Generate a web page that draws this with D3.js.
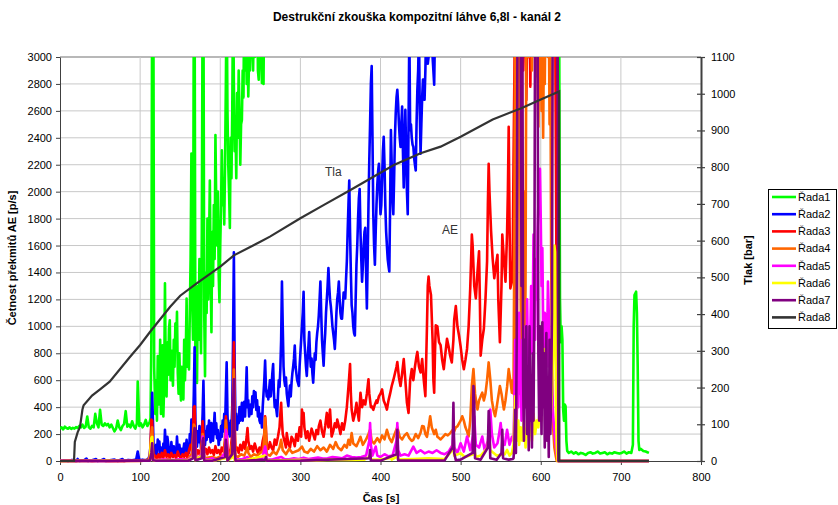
<!DOCTYPE html>
<html>
<head>
<meta charset="utf-8">
<script src="https://cdn.jsdelivr.net/npm/d3@7"></script>
<style>
  body { margin: 0; background: #fff; }
  text { font-family: "Liberation Sans", Arial, sans-serif; }
</style>
</head>
<body>
<svg id="chart" width="838" height="505"></svg>
<script>
// tick labels
const casTicks = [0, 100, 200, 300, 400, 500, 600, 700, 800];
const aeTicks = [0, 200, 400, 600, 800, 1000, 1200, 1400, 1600, 1800, 2000, 2200, 2400, 2600, 2800, 3000];
const tlakTicks = [0, 100, 200, 300, 400, 500, 600, 700, 800, 900, 1000, 1100];

const seriesNames = ['Řada1', 'Řada2', 'Řada3', 'Řada4', 'Řada5', 'Řada6', 'Řada7', 'Řada8'];
const seriesColors = ['#00ff00', '#0000ff', '#ff0000', '#ff6600', '#ff00ff', '#ffff00', '#800080', '#333333'];

// [čas s, četnost p/s] ; values above 3000 run off the top of the chart
const rada1 = [[0,240],[2,250],[4,235],[6,255],[8,245],[10,240],[12,250],[14,238],[16,246],[18,240],[20,252],[22,245],[24,260],[26,250],[28,270],[30,245],[32,255],[34,330],[36,250],[38,240],[40,260],[42,250],[44,350],[46,280],[48,250],[50,380],[52,270],[54,260],[56,280],[58,265],[60,275],[62,250],[64,270],[66,245],[68,220],[70,240],[72,300],[74,250],[76,230],[78,260],[80,275],[82,370],[84,255],[86,270],[88,250],[90,295],[92,260],[94,240],[96,280],[97,590],[99,260],[101,280],[103,250],[105,270],[107,305],[109,260],[111,280],[112,290],[113,320],[114,900],[115,3500],[116.5,3500],[117.5,700],[119,350],[120,600],[121,300],[122,780],[124,420],[125,900],[126,350],[127,600],[128,860],[129,330],[130,560],[131,1320],[132,620],[133,480],[134,880],[135,640],[136,980],[137,1045],[138,600],[139,820],[140,700],[141,560],[142,900],[143,700],[144,1020],[145,820],[146,1107],[147,650],[148,500],[149,800],[150,560],[151,450],[152,700],[153,520],[154,457],[155,900],[156,600],[157,800],[158,1207],[159,700],[160,950],[161,680],[162,1100],[163,1500],[164,2283],[165,1200],[166,900],[167,3500],[168,3500],[169,700],[170,1000],[171,580],[172,1300],[173,900],[174,1500],[175,1100],[176,800],[177,1700],[178,3500],[179,3500],[180,1100],[181,630],[182,1400],[183,1100],[184,1800],[185,1200],[186,1600],[187,2082],[188,1400],[189,957],[190,1700],[191,1300],[192,1900],[193,1500],[194,2420],[195,1900],[196,1600],[197,2000],[198,1400],[199,1180],[200,1600],[201,1900],[202,2307],[203,1900],[204,2100],[205,1757],[206,2200],[207,2800],[208,3500],[209,2600],[210,2200],[211,2000],[212,1730],[213,2400],[214,2100],[215,2600],[216,3500],[217,2800],[218,2300],[219,2500],[220,2100],[221,2732],[222,2400],[223,2900],[224,2600],[225,2200],[226,2500],[227,2532],[228,2900],[229,2700],[230,3500],[231,2900],[232,3200],[233,2800],[234,3100],[235,2707],[236,3000],[237,2900],[238,3200],[239,3500],[240,3100],[241,2900],[242,3300],[243,3000],[244,3400],[245,3100],[246,3600],[247,2900],[248,2832],[249,3200],[250,3500],[251,3000],[252,2807],[253,3300],[254,2800],[255,3600],[260,4000],[300,4500],[400,5000],[500,5000],[600,4800],[618,4500],[621,4000],[623,3300],[624,1200],[625,882],[626,1000],[627,900],[628,382],[629,300],[630,420],[631,407],[632,150],[633,75],[635,60],[638,70],[641,55],[644,65],[647,50],[650,60],[653,55],[656,45],[659,60],[662,65],[665,55],[668,60],[671,70],[674,55],[677,60],[680,65],[683,50],[686,60],[689,55],[692,65],[695,60],[698,55],[701,60],[704,70],[707,55],[710,65],[713,60],[715,120],[716,1000],[717,1232],[719,1257],[720,1100],[721,700],[722,150],[723,82],[725,90],[728,75],[731,70],[733,65],[735,60]];

const rada2 = [[0,0],[5,5],[10,0],[15,8],[20,0],[22,15],[24,0],[30,5],[33,18],[35,0],[40,6],[45,15],[47,0],[52,8],[55,15],[57,0],[62,5],[68,10],[72,0],[78,15],[80,0],[85,8],[90,5],[95,10],[97,70],[99,5],[103,10],[107,5],[110,15],[112,40],[113,120],[114,250],[115,507],[116,300],[117,40],[118,90],[119,30],[120,120],[121,50],[122,160],[123,90],[124,145],[125,40],[126,100],[127,60],[128,30],[129,130],[130,60],[131,232],[132,110],[133,50],[134,180],[135,132],[136,60],[137,100],[138,40],[139,140],[140,70],[141,30],[142,110],[143,50],[144,90],[145,60],[146,182],[147,80],[148,40],[149,120],[150,70],[151,30],[152,90],[153,50],[154,82],[155,130],[156,60],[157,100],[158,157],[159,70],[160,120],[161,60],[162,200],[163,120],[164,307],[165,150],[166,250],[167,500],[168,845],[169,300],[170,150],[171,107],[172,220],[173,140],[174,260],[175,160],[176,100],[177,200],[178,350],[179,595],[180,250],[181,120],[182,220],[183,157],[184,260],[185,180],[186,300],[187,200],[188,140],[189,282],[190,200],[191,150],[192,250],[193,357],[194,200],[195,280],[196,170],[197,230],[198,120],[199,200],[200,157],[201,260],[202,180],[203,300],[204,220],[205,350],[206,250],[207,500],[208,732],[209,350],[210,200],[211,280],[212,182],[213,300],[214,250],[215,400],[216,900],[217,1550],[218,700],[219,300],[220,350],[221,232],[222,330],[223,280],[224,400],[225,300],[226,360],[227,432],[228,300],[229,380],[230,440],[231,330],[232,500],[233,695],[234,400],[235,450],[236,330],[237,357],[238,420],[239,350],[240,480],[241,400],[242,520],[243,482],[244,510],[245,380],[246,450],[247,330],[248,400],[249,300],[250,282],[251,350],[252,250],[253,400],[254,500],[255,600],[256,745],[257,550],[258,480],[259,520],[260,457],[261,530],[262,600],[263,480],[264,560],[265,650],[266,720],[267,500],[268,400],[269,450],[270,380],[271,332],[272,480],[273,600],[274,550],[275,682],[276,900],[277,1332],[278,1000],[279,700],[280,600],[281,557],[282,620],[283,500],[284,450],[285,407],[286,500],[287,560],[288,480],[289,582],[290,650],[291,700],[292,760],[293,857],[294,700],[295,650],[296,600],[297,580],[298,557],[299,700],[300,800],[301,900],[302,1000],[303,1100],[304,1257],[305,900],[306,800],[307,700],[308,632],[309,750],[310,850],[311,957],[312,800],[313,700],[314,760],[315,650],[316,582],[317,700],[318,800],[319,750],[320,880],[321,950],[322,1000],[323,1082],[324,1200],[325,1332],[326,1100],[327,900],[328,800],[329,707],[330,850],[331,950],[332,1100],[333,1200],[334,1300],[335,1432],[336,1300],[337,1200],[338,1150],[339,1082],[340,1000],[341,950],[342,900],[343,832],[344,950],[345,1100],[346,1200],[347,1250],[348,1332],[349,1200],[350,1100],[351,1057],[352,1057],[353,1150],[354,1250],[355,1207],[356,1207],[357,1350],[358,1482],[359,1700],[360,1900],[361,2082],[362,1700],[363,1400],[364,1157],[365,1100],[366,1000],[367,950],[368,932],[369,1200],[370,1457],[371,1600],[372,1800],[373,1950],[374,2020],[375,1700],[376,1500],[377,1332],[378,1450],[379,1600],[380,1700],[381,1732],[382,1400],[383,1132],[384,1500],[385,1900],[386,2232],[387,2500],[388,2800],[389,2932],[390,2400],[391,1832],[392,1600],[393,1457],[394,1700],[395,1900],[396,2050],[397,2150],[398,2207],[399,2000],[400,1832],[401,1900],[402,2100],[403,2300],[404,2407],[405,2200],[406,1900],[407,1707],[408,1600],[409,1500],[410,1450],[411,1407],[412,1900],[413,2457],[414,2200],[415,1950],[416,1832],[417,2100],[418,2400],[419,2582],[420,2700],[421,2757],[422,2650],[423,2500],[424,2400],[425,2332],[426,2500],[427,2632],[428,2300],[429,2032],[430,2300],[431,2607],[432,2300],[433,2000],[434,1832],[435,2500],[436,3200],[437,2457],[438,2500],[439,2400],[440,2350],[441,2332],[442,2250],[443,2200],[444,2157],[445,2500],[446,2757],[447,2900],[448,3200],[449,2600],[450,2282],[451,2500],[452,2700],[453,2832],[454,2832],[455,2682],[456,2900],[457,3200],[458,3100],[459,2950],[460,3000],[461,3100],[462,3300],[463,3100],[464,3400],[465,3000],[466,2900],[467,2795],[468,3200],[470,3500],[480,4000],[520,4500],[600,4500],[619,4000],[620,1500],[621,200],[622,0],[735,0]];

const rada3 = [[0,0],[10,3],[20,0],[30,5],[40,0],[50,4],[60,0],[70,3],[80,0],[90,5],[100,2],[110,8],[112,30],[113,120],[114,307],[115,300],[116,100],[117,20],[119,40],[121,15],[123,50],[125,20],[127,60],[129,25],[131,80],[133,30],[135,50],[137,20],[139,60],[141,30],[143,45],[145,20],[147,70],[149,35],[151,20],[153,50],[155,30],[157,60],[159,25],[161,80],[163,120],[165,60],[166,200],[167,400],[168,407],[169,120],[170,40],[172,80],[174,50],[176,90],[177,150],[178,295],[179,200],[180,60],[182,90],[184,50],[186,100],[188,60],[190,80],[192,45],[194,110],[196,60],[198,80],[200,50],[202,100],[204,70],[206,150],[207,332],[208,250],[209,80],[211,60],[213,90],[215,200],[216,500],[217,882],[218,300],[219,80],[221,100],[223,60],[225,120],[227,80],[229,140],[231,90],[233,180],[234,245],[235,150],[237,90],[239,110],[241,70],[243,130],[245,90],[247,60],[249,100],[251,70],[253,150],[255,200],[256,332],[257,250],[258,120],[260,90],[262,140],[264,100],[266,80],[268,160],[270,120],[272,180],[274,250],[275,350],[276,432],[277,300],[278,200],[280,150],[282,100],[283,207],[285,130],[287,100],[289,180],[291,157],[293,110],[295,200],[297,150],[299,250],[301,180],[302,382],[303,280],[304,357],[305,250],[307,170],[309,220],[311,150],[312,182],[314,240],[316,200],[318,160],[320,230],[322,200],[323,257],[325,300],[327,220],[329,180],[331,260],[333,357],[335,250],[337,382],[339,182],[341,220],[343,280],[345,250],[346,307],[348,260],[350,200],[352,280],[354,232],[356,300],[358,400],[360,550],[361,632],[362,720],[363,500],[364,382],[366,300],[368,350],[370,432],[371,380],[373,300],[375,507],[377,400],[379,450],[381,420],[383,500],[385,607],[386,500],[388,400],[389,407],[391,380],[393,420],[395,450],[396,432],[398,480],[400,500],[402,532],[404,450],[406,420],[408,382],[410,450],[412,500],[414,557],[416,600],[418,650],[420,700],[421,735],[423,620],[425,557],[427,650],[429,757],[431,600],[433,432],[435,357],[437,600],[439,682],[441,600],[443,700],[445,780],[446,810],[448,700],[450,657],[452,757],[454,600],[456,482],[458,1000],[459,1300],[460,1370],[461,1300],[463,1232],[465,900],[466,600],[467,507],[468,800],[469,1007],[471,1000],[473,882],[475,860],[477,750],[479,682],[481,800],[483,907],[485,850],[487,780],[489,732],[491,900],[492,1050],[494,1150],[496,1000],[498,932],[500,850],[502,750],[504,682],[506,750],[508,832],[510,1000],[512,1282],[514,1682],[515,1600],[517,1300],[519,1207],[521,1400],[523,1557],[524,1200],[525,782],[527,900],[529,982],[531,1200],[533,1482],[534,1900],[535,2207],[536,2000],[538,1707],[540,1500],[542,1357],[544,1450],[546,1532],[547,1200],[549,882],[551,1300],[552,1682],[554,1500],[556,1332],[558,1700],[559,2007],[560,2482],[561,1800],[562,1282],[564,1332],[565,1500],[566,2200],[567,2800],[568,3400],[569,3100],[570,3500],[571,3000],[572,3400],[573,2900],[574,3300],[575,3100],[576,3500],[577,3200],[578,2900],[579,3400],[580,3100],[581,3500],[582,2680],[583,3200],[584,3500],[585,3000],[586,3400],[587,2780],[588,3300],[589,3500],[590,3100],[592,3400],[594,3200],[596,3500],[598,3300],[600,3500],[602,3200],[604,3400],[606,3100],[608,3500],[610,3300],[612,3400],[614,3200],[616,3500],[618,3300],[620,1000],[621,100],[622,0],[735,0]];

const rada4 = [[0,0],[20,2],[40,0],[60,3],[80,0],[100,2],[112,10],[114,200],[115,250],[116,30],[118,5],[125,10],[130,5],[135,15],[140,5],[150,10],[160,15],[165,60],[167,270],[168,260],[169,30],[172,20],[176,30],[178,200],[179,170],[180,20],[185,25],[190,30],[195,20],[200,35],[205,50],[207,300],[208,200],[209,40],[212,30],[215,150],[216,400],[217,680],[218,200],[219,40],[222,30],[226,50],[230,40],[234,100],[235,60],[238,30],[242,50],[246,40],[250,60],[254,80],[256,320],[257,200],[258,50],[262,40],[266,70],[270,50],[274,100],[276,157],[278,80],[282,50],[286,90],[290,60],[294,70],[298,80],[302,107],[305,70],[309,60],[313,90],[317,70],[321,110],[325,80],[329,100],[333,70],[337,120],[341,90],[344,140],[347,100],[351,80],[355,120],[358,100],[360,157],[362,120],[364,207],[366,130],[370,110],[373,150],[375,180],[378,120],[382,160],[385,200],[387,232],[389,150],[392,130],[396,170],[399,140],[402,190],[405,160],[408,232],[411,170],[414,140],[417,190],[421,250],[424,180],[427,160],[430,190],[433,207],[436,170],[439,150],[441,157],[444,200],[447,170],[450,210],[452,260],[454,257],[456,200],[458,180],[460,250],[462,332],[464,250],[467,200],[469,232],[471,180],[473,170],[475,160],[478,180],[481,200],[484,190],[487,207],[490,230],[492,220],[494,250],[496,257],[498,280],[500,300],[502,332],[504,300],[506,250],[508,220],[510,182],[512,300],[514,557],[516,682],[518,500],[520,420],[521,382],[523,450],[525,480],[527,507],[529,450],[531,500],[533,600],[535,732],[537,607],[539,450],[541,380],[543,332],[545,400],[547,480],[549,557],[551,500],[553,420],[554,382],[556,450],[558,550],[560,682],[562,600],[564,507],[565,600],[566,500],[567,1600],[568,3200],[569,1000],[570,480],[571,1800],[572,3300],[573,2500],[574,3100],[575,1200],[576,600],[577,1500],[578,900],[579,2000],[580,700],[581,1300],[582,3200],[583,3500],[584,3300],[585,3000],[586,3400],[587,3200],[588,3500],[589,2900],[590,3300],[591,3500],[592,3100],[593,3400],[594,2857],[595,3200],[596,2900],[597,2482],[598,3100],[599,2700],[600,3300],[601,2600],[602,3000],[603,2400],[604,3200],[605,2800],[606,3400],[607,3200],[608,3500],[609,3000],[610,3400],[611,2500],[612,3100],[613,1500],[614,800],[615,300],[617,100],[619,30],[620,0],[735,0]];

const rada5 = [[0,2],[20,0],[40,3],[60,0],[80,2],[100,0],[112,5],[114,80],[115,90],[116,10],[120,5],[130,10],[140,5],[150,12],[160,8],[166,40],[167,150],[168,200],[169,20],[172,10],[177,60],[178,182],[179,150],[180,15],[185,10],[190,20],[195,8],[200,15],[206,60],[207,232],[208,200],[209,20],[212,15],[216,60],[217,150],[218,20],[222,10],[228,15],[234,30],[235,20],[240,12],[246,18],[252,10],[256,107],[257,80],[258,12],[264,10],[270,20],[276,30],[280,15],[286,12],[292,20],[298,15],[304,25],[310,15],[316,20],[322,25],[328,18],[334,20],[340,30],[346,25],[352,20],[358,40],[364,30],[370,25],[376,30],[382,40],[386,150],[387,282],[388,120],[390,40],[394,107],[396,40],[400,30],[405,50],[410,35],[415,40],[420,150],[421,282],[422,80],[425,40],[430,50],[435,40],[441,107],[445,60],[450,80],[455,57],[460,70],[465,60],[470,80],[475,60],[480,50],[485,70],[490,120],[491,232],[492,100],[496,60],[500,132],[504,70],[508,182],[512,80],[516,200],[517,332],[519,120],[523,100],[527,182],[530,80],[534,150],[537,382],[539,200],[542,100],[546,132],[548,200],[550,282],[552,150],[555,120],[558,232],[561,120],[564,180],[566,150],[567,400],[568,900],[569,600],[570,300],[571,800],[572,400],[573,1100],[574,500],[575,700],[576,300],[577,900],[578,500],[579,800],[580,400],[581,1000],[582,600],[583,1200],[584,700],[585,500],[586,900],[587,907],[588,1300],[589,800],[590,1100],[591,1682],[592,1200],[593,900],[594,1500],[595,1200],[596,1700],[597,1900],[598,2100],[599,2170],[600,1800],[601,1300],[602,1582],[603,1000],[604,800],[605,1100],[606,1082],[607,700],[608,900],[609,1332],[610,1100],[611,700],[612,900],[613,600],[614,832],[615,400],[616,300],[618,150],[620,50],[622,0],[735,0]];

const rada6 = [[0,0],[50,2],[100,0],[112,5],[114,170],[115,180],[116,5],[120,2],[140,5],[160,3],[166,30],[167,120],[168,100],[169,5],[177,40],[178,130],[179,100],[180,5],[190,3],[206,20],[207,80],[208,50],[209,3],[216,30],[217,60],[218,5],[230,3],[256,40],[257,30],[258,3],[280,5],[300,8],[320,5],[340,10],[360,8],[380,10],[386,30],[387,45],[388,10],[400,12],[412,20],[413,30],[414,10],[420,30],[421,60],[422,10],[440,15],[460,20],[480,15],[490,80],[491,157],[492,40],[500,57],[505,30],[516,50],[517,82],[519,30],[525,40],[534,100],[535,232],[537,80],[545,40],[555,50],[558,82],[561,40],[564,60],[566,120],[567,300],[568,480],[569,407],[570,150],[571,200],[572,300],[573,120],[575,250],[577,150],[579,300],[581,100],[583,250],[585,180],[587,300],[589,150],[591,350],[593,200],[595,300],[597,250],[599,400],[601,300],[602,500],[603,700],[604,832],[605,632],[606,380],[607,282],[608,350],[610,400],[612,300],[614,500],[616,900],[617,1600],[618,1550],[619,400],[620,100],[621,0],[735,0]];

const rada7 = [[0,0],[30,2],[60,0],[90,3],[112,3],[114,60],[115,132],[116,5],[120,2],[140,3],[160,2],[166,20],[167,200],[168,245],[169,5],[177,20],[178,150],[179,170],[180,3],[190,2],[206,30],[207,157],[208,100],[209,3],[215,50],[216,400],[217,607],[218,100],[219,3],[230,2],[256,10],[257,30],[258,2],[300,3],[386,20],[387,82],[388,5],[400,3],[420,50],[421,232],[422,5],[440,3],[480,5],[490,100],[491,432],[492,60],[494,5],[500,10],[515,60],[516,557],[517,432],[518,20],[525,10],[534,100],[535,370],[536,282],[537,20],[545,10],[551,60],[552,232],[553,20],[560,10],[565,15],[566,20],[567,100],[568,380],[569,60],[570,900],[571,3500],[572,3500],[573,3500],[574,3500],[575,3200],[576,1300],[577,3500],[578,600],[579,150],[580,900],[581,400],[582,1000],[583,200],[584,700],[585,80],[586,1000],[587,300],[588,600],[589,100],[590,800],[591,300],[592,1200],[593,3500],[594,3500],[595,3500],[596,3500],[597,800],[598,300],[599,1000],[600,600],[601,200],[602,1030],[603,400],[604,800],[605,100],[606,700],[607,950],[608,150],[609,600],[610,30],[611,900],[612,200],[613,500],[614,1100],[615,3500],[616,3500],[617,3500],[618,3500],[619,3500],[620,3500],[621,3500],[622,0],[735,0]];

// [čas s, tlak bar] - right axis
const rada8 = [[0,0],[17.5,0],[18.5,52],[22,78],[25,93],[28,140],[29.5,152],[40,178],[50,195],[62,216],[87.5,284],[100,316],[112.5,352],[137.5,420],[150,450],[171,484],[200,529],[217,560],[241,587],[250,597],[262,611],[300,661],[330,698],[362.5,738],[416.7,806],[450,838],[475,856],[500,883],[540,930],[575,960],[600,984],[623,1006],[623.2,0],[735,0]];

const aeSeries = [rada1, rada2, rada3, rada4, rada5, rada6, rada7];

const svg = d3.select('#chart');
const x = d3.scaleLinear().domain([0, 800]).range([60, 701]);
const y = d3.scaleLinear().domain([0, 3000]).range([461, 57]);
const y2 = d3.scaleLinear().domain([0, 1100]).range([461, 57]);
const fmt = d3.format('d');

// gridlines
svg.append('g')
  .selectAll('line')
  .data(aeTicks.filter(d => d > 0))
  .join('line')
  .attr('x1', x(0)).attr('x2', x(800))
  .attr('y1', d => y(d)).attr('y2', d => y(d))
  .attr('stroke', d => d === 3000 ? '#a0a0a0' : '#c8c8c8')
  .attr('stroke-width', d => d === 3000 ? 1.5 : 1);

svg.append('g')
  .selectAll('line')
  .data(casTicks.filter(d => d > 0 && d < 800))
  .join('line')
  .attr('x1', d => x(d)).attr('x2', d => x(d))
  .attr('y1', y(0)).attr('y2', y(3000))
  .attr('stroke', '#c8c8c8');

// axes
const styleAxis = g => {
  g.selectAll('text').attr('fill', '#000').style('font-size', '11px')
    .style('font-family', '"Liberation Sans", Arial, sans-serif');
};

svg.append('g')
  .attr('transform', `translate(${x(0)},0)`)
  .call(d3.axisLeft(y).tickValues(aeTicks).tickFormat(fmt).tickSize(4).tickSizeOuter(0).tickPadding(4))
  .call(styleAxis)
  .call(g => g.selectAll('line, path').attr('stroke', '#404040'));

svg.append('g')
  .attr('transform', `translate(0,${y(0)})`)
  .call(d3.axisBottom(x).tickValues(casTicks).tickFormat(fmt).tickSize(4).tickSizeOuter(0).tickPadding(8))
  .call(styleAxis)
  .call(g => g.selectAll('line, path').attr('stroke', '#404040'));

svg.append('g')
  .attr('transform', `translate(${x(800)},0)`)
  .call(d3.axisRight(y2).tickValues(tlakTicks).tickFormat(fmt).tickSize(4).tickSizeOuter(0).tickPadding(6))
  .call(styleAxis)
  .call(g => g.select('.domain').attr('stroke', '#404040').attr('stroke-width', 2))
  .call(g => g.selectAll('.tick line').attr('x1', -4).attr('stroke', '#404040').attr('stroke-width', 1.2));

// series
svg.append('clipPath').attr('id', 'plot')
  .append('rect').attr('x', x(0)).attr('y', y(3000)).attr('width', x(800) - x(0)).attr('height', y(0) - y(3000) + 3);

const plot = svg.append('g').attr('clip-path', 'url(#plot)');

const lineAE = d3.line().x(d => x(d[0])).y(d => y(d[1]));
const lineTlak = d3.line().x(d => x(d[0])).y(d => y2(d[1]));

aeSeries.forEach((s, i) => {
  plot.append('path')
    .datum(s)
    .attr('fill', 'none')
    .attr('stroke', seriesColors[i])
    .attr('stroke-width', 2.6)
    .attr('stroke-linejoin', 'round')
    .attr('d', lineAE);
});

plot.append('path')
  .datum(rada8)
  .attr('fill', 'none')
  .attr('stroke', seriesColors[7])
  .attr('stroke-width', 2.2)
  .attr('d', lineTlak);

// annotations in the plot
svg.append('text').attr('x', 325).attr('y', 176).attr('fill', '#333').style('font-size', '12px').text('Tla');
svg.append('text').attr('x', 442).attr('y', 234).attr('fill', '#333').style('font-size', '12px').text('AE');

// titles
svg.append('text')
  .attr('x', 417).attr('y', 21)
  .attr('text-anchor', 'middle')
  .style('font-size', '12px').style('font-weight', 'bold')
  .text('Destrukční zkouška kompozitní láhve 6,8l - kanál 2');

svg.append('text')
  .attr('transform', 'translate(16,258) rotate(-90)')
  .attr('text-anchor', 'middle')
  .style('font-size', '11px').style('font-weight', 'bold')
  .text('Četnost překmitů AE [p/s]');

svg.append('text')
  .attr('transform', 'translate(752,260) rotate(-90)')
  .attr('text-anchor', 'middle')
  .style('font-size', '11px').style('font-weight', 'bold')
  .text('Tlak [bar]');

svg.append('text')
  .attr('x', 381).attr('y', 502)
  .attr('text-anchor', 'middle')
  .style('font-size', '11px').style('font-weight', 'bold')
  .text('Čas [s]');

// legend
const legend = svg.append('g');
legend.append('rect')
  .attr('x', 768.5).attr('y', 189.5).attr('width', 68).attr('height', 139)
  .attr('fill', '#fff').attr('stroke', '#000');

const item = legend.selectAll('g.item')
  .data(seriesNames)
  .join('g')
  .attr('class', 'item')
  .attr('transform', (d, i) => `translate(0,${197 + i * 17.2})`);

item.append('line')
  .attr('x1', 772).attr('x2', 796)
  .attr('stroke', (d, i) => seriesColors[i])
  .attr('stroke-width', 2.6);

item.append('text')
  .attr('x', 798).attr('dy', '0.35em')
  .style('font-size', '11px')
  .text(d => d);
</script>
</body>
</html>
